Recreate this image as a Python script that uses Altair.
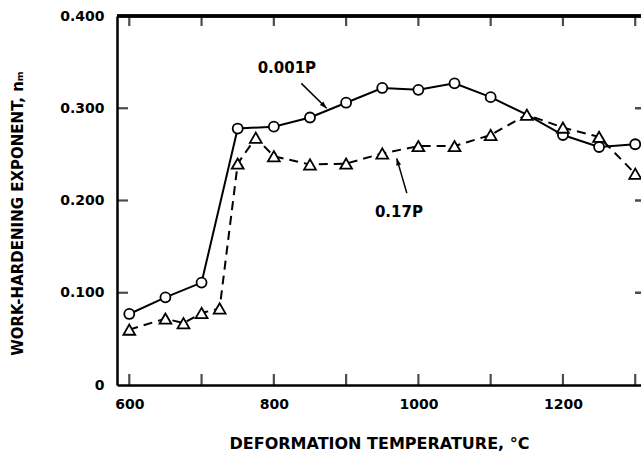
import altair as alt
import pandas as pd

# 0.001P series (circles)
temps_a = [600, 650, 700, 750, 800, 850, 900, 950, 1000, 1050, 1100, 1150, 1200, 1250, 1300]
n_a = [0.077, 0.095, 0.111, 0.278, 0.280, 0.290, 0.306, 0.322, 0.320, 0.327, 0.312, 0.293, 0.271, 0.258, 0.261]
marker_a = [1, 1, 1, 1, 1, 1, 1, 1, 1, 1, 1, 0, 1, 1, 1]

# 0.17P series (triangles)
temps_b = [600, 650, 675, 700, 725, 750, 775, 800, 850, 900, 950, 1000, 1050, 1100, 1150, 1200, 1250, 1300]
n_b = [0.060, 0.072, 0.067, 0.078, 0.083, 0.240, 0.268, 0.248, 0.239, 0.240, 0.251, 0.259, 0.259, 0.271, 0.293, 0.279, 0.269, 0.229]

x_ticks = [600, 700, 800, 900, 1000, 1100, 1200, 1300]
x_labels = [600, 800, 1000, 1200]
y_ticks = [0.1, 0.2, 0.3]
y_labels = [0, 0.1, 0.2, 0.3, 0.4]

labels_text = ["0.001P", "0.17P"]
labels_x = [818, 973]
labels_y = [0.344, 0.1875]

arrow_x = [838, 984]
arrow_y = [0.327, 0.208]
arrow_x2 = [873, 970]
arrow_y2 = [0.300, 0.2457]
arrow_angle = [135, 344]

FONT = "DejaVu Sans"
W, H = 524, 369
X_DOM = [583, 1308]
Y_DOM = [0, 0.4]

df_a = pd.DataFrame({"t": temps_a, "n": n_a, "m": marker_a})
df_b = pd.DataFrame({"t": temps_b, "n": n_b})
df_xt = pd.DataFrame({"t": x_ticks})
df_yt = pd.DataFrame({"n": y_ticks})
df_lab = pd.DataFrame({"text": labels_text, "t": labels_x, "n": labels_y})
df_arr = pd.DataFrame({"t": arrow_x, "n": arrow_y, "t2": arrow_x2, "n2": arrow_y2, "ang": arrow_angle})

xs = alt.Scale(domain=X_DOM, nice=False, zero=False)
ys = alt.Scale(domain=Y_DOM, nice=False)

X = alt.X("t:Q", scale=xs, axis=alt.Axis(
    values=x_labels, format="d", title="DEFORMATION TEMPERATURE, °C",
    ticks=False, grid=False, domainWidth=2.5, domainColor="black",
    labelFont=FONT, labelFontSize=14, labelFontWeight="bold", labelColor="black",
    labelPadding=12, titleFont=FONT, titleFontSize=16, titleFontWeight="bold",
    titleColor="black", titleBaseline="middle", titleY=58))
Y = alt.Y("n:Q", scale=ys, axis=alt.Axis(
    values=y_labels, labelExpr="datum.value == 0 ? '0' : format(datum.value, '.3f')",
    title="WORK-HARDENING EXPONENT, nₘ",
    ticks=False, grid=False, domainWidth=2.5, domainColor="black",
    labelFont=FONT, labelFontSize=14, labelFontWeight="bold", labelColor="black",
    labelPadding=13, titleFont=FONT, titleFontSize=15, titleFontWeight="bold",
    titleColor="black", titleBaseline="middle", titleX=-100, titleY=197))

line_b = alt.Chart(df_b).mark_line(color="black", strokeWidth=2, strokeDash=[9, 6]).encode(x=X, y=Y)
line_a = alt.Chart(df_a).mark_line(color="black", strokeWidth=2).encode(x="t:Q", y="n:Q")
pts_a = alt.Chart(df_a).transform_filter("datum.m == 1").mark_point(
    shape="circle", filled=True, fill="white", stroke="black", strokeWidth=1.8, size=100, opacity=1
).encode(x="t:Q", y="n:Q")
pts_b = alt.Chart(df_b).mark_point(
    shape="triangle-up", filled=True, fill="white", stroke="black", strokeWidth=1.8, size=140, opacity=1
).encode(x="t:Q", y="n:Q")

top = alt.Chart(df_xt).mark_rule(color="black", strokeWidth=2.5).encode(
    y=alt.value(0), x=alt.value(0), x2=alt.value(W))

# inward frame ticks drawn as tick marks
bt = alt.Chart(df_xt).mark_tick(color="black", thickness=2.2, size=11, orient="vertical").encode(
    x="t:Q", y=alt.value(H - 5.5))
tt = alt.Chart(df_xt).mark_tick(color="black", thickness=2.2, size=10, orient="vertical").encode(
    x="t:Q", y=alt.value(5))
lt = alt.Chart(df_yt).mark_tick(color="black", thickness=2.2, size=11, orient="horizontal").encode(
    y="n:Q", x=alt.value(5.5))
rt = alt.Chart(df_yt).mark_tick(color="black", thickness=2.5, size=12, orient="horizontal").encode(
    y="n:Q", x=alt.value(W))

labels = alt.Chart(df_lab).mark_text(
    font=FONT, fontSize=15, fontWeight="bold", color="black"
).encode(x="t:Q", y="n:Q", text="text:N")

arr_line = alt.Chart(df_arr).mark_rule(color="black", strokeWidth=1.5).encode(
    x="t:Q", y="n:Q", x2="t2:Q", y2="n2:Q")
arr_head = alt.Chart(df_arr).mark_point(
    shape="M0,0L-0.35,1L0.35,1Z", filled=True, color="black", opacity=1, size=200
).encode(x="t2:Q", y="n2:Q", angle=alt.Angle("ang:Q", scale=None))

chart = alt.layer(
    line_b, line_a, pts_a, pts_b, top, bt, tt, lt, rt, labels, arr_line, arr_head
).properties(
    width=W, height=H,
    autosize=alt.AutoSizeParams(type="none"),
    padding={"left": 117, "top": 16, "right": 0, "bottom": 72},
    background="white",
).configure_view(stroke=None)

chart.save("out.html", embed_options={"renderer": "svg", "actions": False})
